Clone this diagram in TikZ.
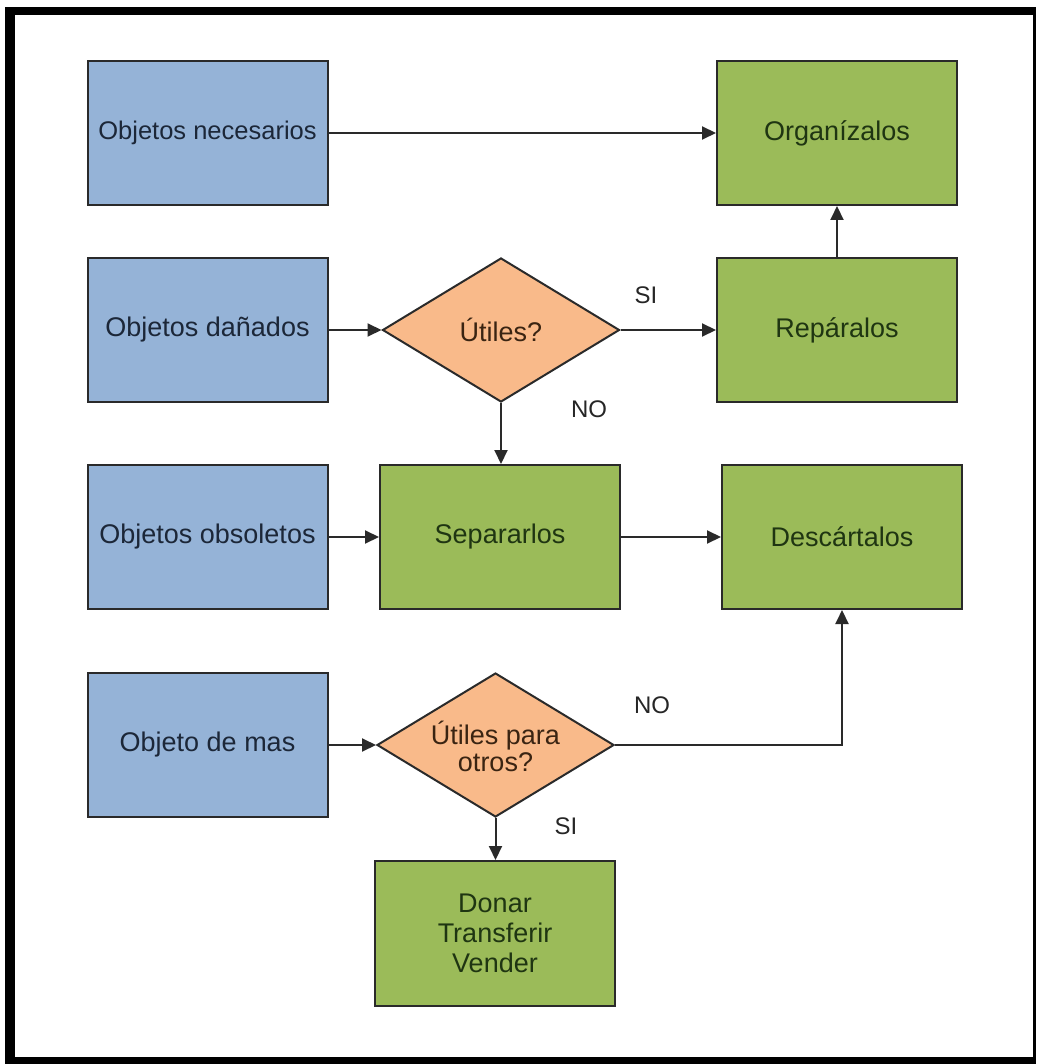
\documentclass[tikz,border=0pt]{standalone}
\usepackage{fontspec}
\setmainfont{Liberation Sans}
\usetikzlibrary{shapes.geometric,arrows.meta}
\definecolor{boxblue}{HTML}{95B3D7}
\definecolor{boxgreen}{HTML}{9BBB59}
\definecolor{boxorange}{HTML}{F9BA8A}
\definecolor{txtblue}{HTML}{1C2738}
\definecolor{txtgreen}{HTML}{1F3512}
\definecolor{txtbrown}{HTML}{3A2412}
\definecolor{edge}{HTML}{2A2A2A}
\tikzset{
  every node/.style={font=\fontsize{27}{30}\selectfont},
  srcbox/.style={rectangle, draw=edge, line width=2pt, fill=boxblue,
    minimum width=240pt, minimum height=144pt, text=txtblue, inner sep=0pt},
  actbox/.style={rectangle, draw=edge, line width=2pt, fill=boxgreen,
    minimum width=240pt, minimum height=144pt, text=txtgreen, inner sep=0pt, align=center},
  askbox/.style={diamond, draw=edge, line width=2pt, fill=boxorange,
    minimum width=237pt, minimum height=144pt, inner sep=0pt},
  asktext/.style={text=txtbrown, align=center, inner sep=0pt,
    font=\fontsize{27}{27}\selectfont},
  flow/.style={draw=edge, line width=2pt, -{Triangle[length=14pt,width=13pt]}},
  tag/.style={text=black!85, font=\fontsize{24}{28}\selectfont}
}
\begin{document}
\begin{tikzpicture}[x=1pt,y=-1pt]
  \useasboundingbox (0,0) rectangle (1036,1064);
  \fill[white] (0,0) rectangle (1036,1064);
  % frame: heavy on left, top and bottom, hairline on the right
  \fill[black] (5,7) rectangle (15,1064);
  \fill[black] (5,7) rectangle (1036,15);
  \fill[black] (5,1057) rectangle (1036,1064);
  \fill[black] (1033,7) rectangle (1036,1064);

  % sources
  \node[srcbox, font=\fontsize{25.5}{30}\selectfont] (nec) at (207.5,133) {Objetos necesarios};
  \node[srcbox] (dan) at (207.5,330) {Objetos dañados};
  \node[srcbox] (obs) at (207.5,537) {Objetos obsoletos};
  \node[srcbox] (mas) at (207.5,745) {Objeto de mas};

  % decisions (fixed-size diamonds, text set on top)
  \node[askbox] (uti) at (501,330) {};
  \node[asktext] (utitxt) at (uti.center) {Útiles?};
  \node[askbox] (otr) at (495.5,745) {};
  \node[asktext] (otrtxt) at ([yshift=-1pt]otr.center) {Útiles para\\otros?};

  % actions
  \node[actbox] (org) at (837,133) {Organízalos};
  \node[actbox] (rep) at (837,330) {Repáralos};
  \node[actbox] (sep) at (500,537) {Separarlos};
  \node[actbox] (des) at (842,537) {Descártalos};
  \node[actbox, minimum height=145pt] (don) at (495,933.5) {Donar\\Transferir\\Vender};

  % connectors
  \draw[flow] (nec) -- (org);
  \draw[flow] (rep) -- (org);
  \draw[flow] (dan) -- (uti);
  \draw[flow] (uti) -- (rep);
  \draw[flow] (uti.south) -- (sep.north -| uti.south);
  \draw[flow] (obs) -- (sep);
  \draw[flow] (sep) -- (des);
  \draw[flow] (mas) -- (otr);
  \draw[flow] (otr.east) -| (des.south);
  \draw[flow] (otr.south) -- (don.north -| otr.south);

  % branch labels
  \node[tag] (si1) at (646,295) {SI};
  \node[tag] (no1) at (589,409) {NO};
  \node[tag] (no2) at (652,705) {NO};
  \node[tag] (si2) at (566,826) {SI};
\end{tikzpicture}
\end{document}
